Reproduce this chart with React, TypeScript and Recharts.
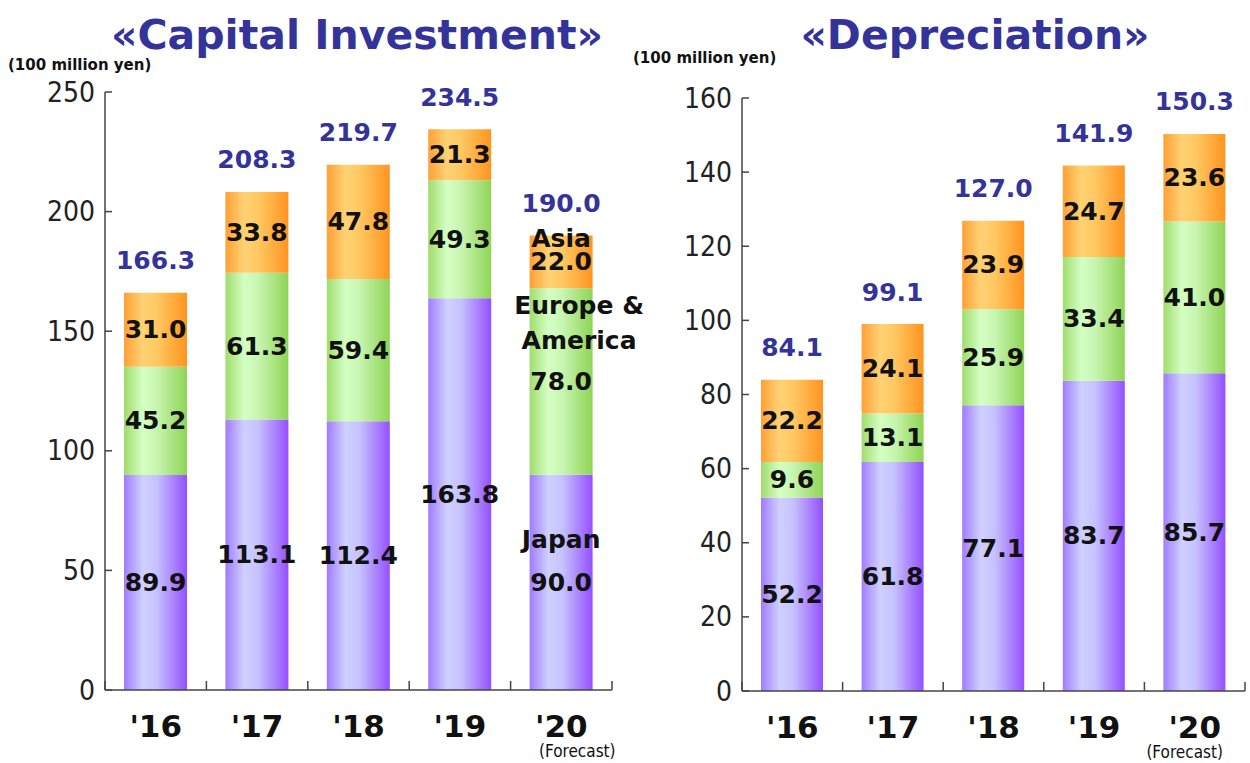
import React from "react";
import { BarChart, Bar, XAxis, YAxis, LabelList } from "recharts";

const YEARS = ["'16", "'17", "'18", "'19", "'20"];

// Capital investment (100 million yen)
const CAPEX_JAPAN = [89.9, 113.1, 112.4, 163.8, 90.0];
const CAPEX_EUROPE = [45.2, 61.3, 59.4, 49.3, 78.0];
const CAPEX_ASIA = [31.0, 33.8, 47.8, 21.3, 22.0];
const CAPEX_TOTAL = [166.3, 208.3, 219.7, 234.5, 190.0];
const CAPEX_TICKS = [0, 50, 100, 150, 200, 250];

// Depreciation (100 million yen)
const DEPR_JAPAN = [52.2, 61.8, 77.1, 83.7, 85.7];
const DEPR_EUROPE = [9.6, 13.1, 25.9, 33.4, 41.0];
const DEPR_ASIA = [22.2, 24.1, 23.9, 24.7, 23.6];
const DEPR_TOTAL = [84.1, 99.1, 127.0, 141.9, 150.3];
const DEPR_TICKS = [0, 20, 40, 60, 80, 100, 120, 140, 160];

const FONT = "'DejaVu Sans', Verdana, sans-serif";
const TICK_FONT = "'DejaVu Sans Condensed', 'DejaVu Sans', sans-serif";
const NAVY = "#333399";
const AXIS = "#444";

function buildData(japan: number[], europe: number[], asia: number[]) {
  return YEARS.map((year, i) => ({
    year,
    japan: japan[i],
    europe: europe[i],
    asia: asia[i],
  }));
}

function Gradients({ prefix }: { prefix: string }) {
  return (
    <defs>
      <linearGradient id={`${prefix}-jp`} x1="0" y1="0" x2="1" y2="0">
        <stop offset="0%" stopColor="#a07cff" />
        <stop offset="30%" stopColor="#cfd0ff" />
        <stop offset="52%" stopColor="#c6c2ff" />
        <stop offset="100%" stopColor="#9450ff" />
      </linearGradient>
      <linearGradient id={`${prefix}-eu`} x1="0" y1="0" x2="1" y2="0">
        <stop offset="0%" stopColor="#a0dc6c" />
        <stop offset="30%" stopColor="#d4ffc4" />
        <stop offset="52%" stopColor="#c8f5b0" />
        <stop offset="100%" stopColor="#8fd455" />
      </linearGradient>
      <linearGradient id={`${prefix}-as`} x1="0" y1="0" x2="1" y2="0">
        <stop offset="0%" stopColor="#ffa035" />
        <stop offset="30%" stopColor="#ffd274" />
        <stop offset="52%" stopColor="#ffc862" />
        <stop offset="100%" stopColor="#ff9420" />
      </linearGradient>
    </defs>
  );
}

// segment value, with the series name written above it on the last bar
function segmentLabel(name: string[], nameGap: number, nameDx: number) {
  return (props: any) => {
    const { x, y, width, height, value, index } = props;
    const cx = x + width / 2;
    const cy = y + height / 2;
    const last = index === YEARS.length - 1;
    return (
      <g>
        {last &&
          name.map((line, k) => (
            <text
              key={k}
              x={cx + nameDx}
              y={cy - nameGap - (name.length - 1 - k) * 35}
              textAnchor="middle"
              dominantBaseline="central"
              fontFamily={FONT}
              fontWeight="bold"
              fontSize={25}
              fill="#111"
            >
              {line}
            </text>
          ))}
        <text
          x={cx}
          y={cy}
          textAnchor="middle"
          dominantBaseline="central"
          fontFamily={FONT}
          fontWeight="bold"
          fontSize={25}
          fill="#111"
        >
          {Number(value).toFixed(1)}
        </text>
      </g>
    );
  };
}

function totalLabel(totals: number[]) {
  return (props: any) => {
    const { x, y, width, index } = props;
    return (
      <text
        x={x + width / 2}
        y={y - 32}
        textAnchor="middle"
        dominantBaseline="central"
        fontFamily={FONT}
        fontWeight="bold"
        fontSize={25}
        fill={NAVY}
      >
        {totals[index].toFixed(1)}
      </text>
    );
  };
}

function yTick(props: any) {
  const { x, y, payload } = props;
  return (
    <g>
      <line x1={x} x2={x + 7} y1={y} y2={y} stroke={AXIS} strokeWidth={1.5} />
      <text
        x={x - 10}
        y={y}
        textAnchor="end"
        dominantBaseline="central"
        fontFamily={TICK_FONT}
        fontSize={28}
        fill="#222"
      >
        {payload.value}
      </text>
    </g>
  );
}

function xTick(band: number, forecastDx: number) {
  return (props: any) => {
    const { x, y, payload, index } = props;
    const last = index === YEARS.length - 1;
    return (
      <g>
        <line x1={x - band / 2} x2={x - band / 2} y1={y} y2={y - 9} stroke={AXIS} strokeWidth={1.5} />
        {last && (
          <line x1={x + band / 2} x2={x + band / 2} y1={y} y2={y - 9} stroke={AXIS} strokeWidth={1.5} />
        )}
        <text
          x={x}
          y={y + 36}
          textAnchor="middle"
          dominantBaseline="central"
          fontFamily={FONT}
          fontWeight="bold"
          fontSize={31}
          fill="#111"
        >
          {payload.value}
        </text>
        {last && (
          <text
            x={x + forecastDx}
            y={y + 61}
            textAnchor="middle"
            dominantBaseline="central"
            fontFamily={TICK_FONT}
            fontSize={17}
            fill="#111"
          >
            (Forecast)
          </text>
        )}
      </g>
    );
  };
}

interface StackChartProps {
  prefix: string;
  data: ReturnType<typeof buildData>;
  totals: number[];
  ticks: number[];
  width: number;
  height: number;
  margin: { top: number; right: number; bottom: number; left: number };
  plotWidth: number;
  barSize: number;
  showNames: boolean;
  forecastDx: number;
}

function StackChart({
  prefix,
  data,
  totals,
  ticks,
  width,
  height,
  margin,
  plotWidth,
  barSize,
  showNames,
  forecastDx,
}: StackChartProps) {
  const band = plotWidth / YEARS.length;
  return (
    <BarChart width={width} height={height} data={data} margin={margin} style={{ overflow: "visible" }}>
      <Gradients prefix={prefix} />
      <XAxis
        dataKey="year"
        height={40}
        axisLine={{ stroke: AXIS, strokeWidth: 1.5 }}
        tickLine={false}
        tickSize={0}
        tickMargin={0}
        tick={xTick(band, forecastDx)}
        interval={0}
      />
      <YAxis
        width={60}
        domain={[0, ticks[ticks.length - 1]]}
        ticks={ticks}
        axisLine={{ stroke: AXIS, strokeWidth: 1.5 }}
        tickLine={false}
        tickSize={0}
        tickMargin={0}
        tick={yTick}
        interval={0}
      />
      <Bar dataKey="japan" stackId="a" fill={`url(#${prefix}-jp)`} barSize={barSize} isAnimationActive={false}>
        <LabelList dataKey="japan" content={segmentLabel(showNames ? ["Japan"] : [], 43, 0)} />
      </Bar>
      <Bar dataKey="europe" stackId="a" fill={`url(#${prefix}-eu)`} barSize={barSize} isAnimationActive={false}>
        <LabelList dataKey="europe" content={segmentLabel(showNames ? ["Europe &", "America"] : [], 41, 18)} />
      </Bar>
      <Bar dataKey="asia" stackId="a" fill={`url(#${prefix}-as)`} barSize={barSize} isAnimationActive={false}>
        <LabelList dataKey="asia" content={segmentLabel(showNames ? ["Asia"] : [], 23, 0)} />
        <LabelList dataKey="asia" content={totalLabel(totals)} />
      </Bar>
    </BarChart>
  );
}

export default function App() {
  const capex = buildData(CAPEX_JAPAN, CAPEX_EUROPE, CAPEX_ASIA);
  const depr = buildData(DEPR_JAPAN, DEPR_EUROPE, DEPR_ASIA);
  const titleStyle: React.CSSProperties = {
    position: "absolute",
    top: 13,
    fontFamily: FONT,
    fontWeight: "bold",
    fontSize: 41,
    lineHeight: "44px",
    color: NAVY,
    transform: "translateX(-50%)",
    whiteSpace: "nowrap",
  };
  const unitStyle: React.CSSProperties = {
    position: "absolute",
    fontFamily: FONT,
    fontWeight: "bold",
    fontSize: 15,
    lineHeight: "18px",
    color: "#111",
    whiteSpace: "nowrap",
  };
  return (
    <div
      style={{
        position: "absolute",
        left: 0,
        top: 0,
        width: 1250,
        height: 763,
        background: "#fff",
        overflow: "hidden",
      }}
    >
      <div style={{ ...titleStyle, left: 357 }}>«Capital Investment»</div>
      <div style={{ ...titleStyle, left: 975 }}>«Depreciation»</div>
      <div style={{ ...unitStyle, left: 8, top: 56 }}>(100 million yen)</div>
      <div style={{ ...unitStyle, left: 633, top: 49 }}>(100 million yen)</div>

      <div style={{ position: "absolute", left: 0, top: 0 }}>
        <StackChart
          prefix="capex"
          data={capex}
          totals={CAPEX_TOTAL}
          ticks={CAPEX_TICKS}
          width={680}
          height={763}
          margin={{ top: 92, right: 68, bottom: 33, left: 45 }}
          plotWidth={507}
          barSize={63}
          showNames={true}
          forecastDx={16}
        />
      </div>
      <div style={{ position: "absolute", left: 625, top: 0 }}>
        <StackChart
          prefix="depr"
          data={depr}
          totals={DEPR_TOTAL}
          ticks={DEPR_TICKS}
          width={625}
          height={763}
          margin={{ top: 98, right: 5, bottom: 32, left: 57 }}
          plotWidth={503}
          barSize={62}
          showNames={false}
          forecastDx={-10}
        />
      </div>
    </div>
  );
}
